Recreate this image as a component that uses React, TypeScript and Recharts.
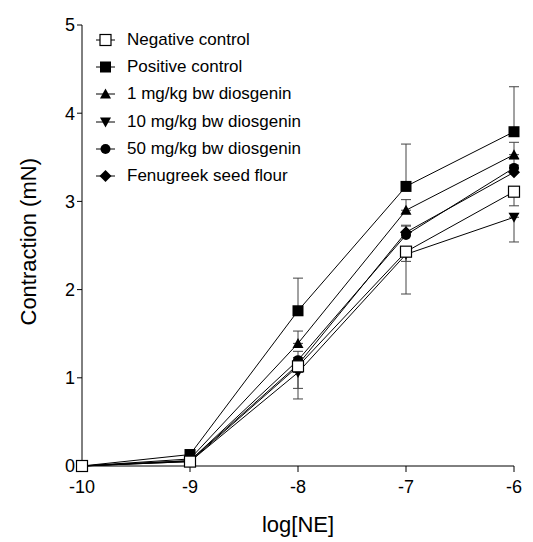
import React from "react"
import { LineChart, Line, XAxis, YAxis, ErrorBar } from "recharts"

const logNE = [-10, -9, -8, -7, -6]

const negative = [0, 0.05, 1.13, 2.43, 3.11]
const negativeErr = [[0, 0], [0, 0], [0.37, 0.0], [0.48, 0], [0.16, 0]]
const positive = [0, 0.13, 1.76, 3.17, 3.79]
const positiveErr = [[0, 0], [0, 0.02], [0, 0.37], [0, 0.48], [0, 0.51]]
const dios1 = [0, 0.08, 1.39, 2.9, 3.53]
const dios1Err = [[0, 0], [0, 0], [0, 0.14], [0, 0.12], [0, 0.14]]
const dios10 = [0, 0.05, 1.06, 2.4, 2.82]
const dios10Err = [[0, 0], [0, 0], [0.18, 0], [0.08, 0], [0.28, 0]]
const dios50 = [0, 0.06, 1.2, 2.62, 3.38]
const dios50Err = [[0, 0], [0, 0], [0, 0.1], [0, 0.1], [0, 0.1]]
const fenugreek = [0, 0.06, 1.15, 2.65, 3.33]
const fenugreekErr = [[0, 0], [0, 0], [0, 0.08], [0, 0.08], [0, 0.08]]

const yTicks = [0, 1, 2, 3, 4, 5]

const series = [
  { key: "pos", name: "Positive control", values: positive, err: positiveErr, shape: "square" },
  { key: "d1", name: "1 mg/kg bw diosgenin", values: dios1, err: dios1Err, shape: "triUp" },
  { key: "d10", name: "10 mg/kg bw diosgenin", values: dios10, err: dios10Err, shape: "triDown" },
  { key: "d50", name: "50 mg/kg bw diosgenin", values: dios50, err: dios50Err, shape: "circle" },
  { key: "fen", name: "Fenugreek seed flour", values: fenugreek, err: fenugreekErr, shape: "diamond" },
  { key: "neg", name: "Negative control", values: negative, err: negativeErr, shape: "openSquare" },
]

const legendOrder = ["neg", "pos", "d1", "d10", "d50", "fen"]

const data = logNE.map((x, i) => {
  const row: any = { x }
  series.forEach((s) => {
    row[s.key] = s.values[i]
    row[s.key + "Err"] = s.err[i]
  })
  return row
})

function Marker({ shape, cx, cy }: { shape: string; cx: number; cy: number }) {
  const r = 5.5
  switch (shape) {
    case "openSquare":
      return <rect x={cx - r} y={cy - r} width={r * 2} height={r * 2} fill="#fff" stroke="#000" strokeWidth={1.2} />
    case "square":
      return <rect x={cx - r} y={cy - r} width={r * 2} height={r * 2} fill="#000" />
    case "triUp":
      return <polygon points={`${cx},${cy - r} ${cx - r},${cy + r - 1} ${cx + r},${cy + r - 1}`} fill="#000" />
    case "triDown":
      return <polygon points={`${cx},${cy + r} ${cx - r},${cy - r + 1} ${cx + r},${cy - r + 1}`} fill="#000" />
    case "circle":
      return <circle cx={cx} cy={cy} r={r - 0.5} fill="#000" />
    default:
      return <polygon points={`${cx},${cy - r - 0.5} ${cx + r + 0.5},${cy} ${cx},${cy + r + 0.5} ${cx - r - 0.5},${cy}`} fill="#000" />
  }
}

const font = "'Liberation Sans', Arial, sans-serif"

function LegendBox() {
  return (
    <div style={{ position: "absolute", left: 94, top: 26, fontFamily: font, fontSize: 17, color: "#000" }}>
      {legendOrder.map((k) => {
        const s = series.find((t) => t.key === k)!
        return (
          <div key={k} style={{ display: "flex", alignItems: "center", height: 27.3 }}>
            <svg width={30} height={20}>
              <line x1={2} y1={10} x2={21} y2={10} stroke="#000" strokeWidth={1} />
              <Marker shape={s.shape} cx={11.5} cy={10} />
            </svg>
            <span style={{ marginLeft: 3 }}>{s.name}</span>
          </div>
        )
      })}
    </div>
  )
}

export default function App() {
  return (
    <div style={{ width: 533, height: 542, background: "#fff", position: "relative" }}>
      <style>{`body{margin:0}`}</style>
      <LineChart width={533} height={542} data={data} margin={{ top: 25, right: 19, left: 22, bottom: 36 }}>
        <XAxis
          dataKey="x"
          type="number"
          domain={[-10, -6]}
          ticks={logNE}
          tickLine={{ stroke: "#000" }}
          axisLine={{ stroke: "#000" }}
          tickSize={6}
          tick={{ fill: "#000", fontSize: 18, fontFamily: font, dy: 6 }}
          height={40}
          label={{ value: "log[NE]", position: "insideBottom", offset: -26, fill: "#000", fontSize: 22, fontFamily: font }}
        />
        <YAxis
          type="number"
          domain={[0, 5]}
          ticks={yTicks}
          width={60}
          tickLine={{ stroke: "#000" }}
          axisLine={{ stroke: "#000" }}
          tickSize={5}
          tick={{ fill: "#000", fontSize: 18, fontFamily: font }}
          label={{ value: "Contraction (mN)", angle: -90, position: "insideLeft", offset: 6, dy: 80, fill: "#000", fontSize: 22, fontFamily: font }}
        />
        {series.map((s) => (
          <Line
            key={s.key}
            dataKey={s.key}
            name={s.name}
            stroke="#000"
            strokeWidth={1}
            isAnimationActive={false}
            dot={(p: any) => <Marker key={s.key + p.index} shape={s.shape} cx={p.cx} cy={p.cy} />}
            activeDot={false}
          >
            <ErrorBar dataKey={s.key + "Err"} direction="y" width={5} stroke="#444" strokeWidth={1} />
          </Line>
        ))}
      </LineChart>
      <LegendBox />
    </div>
  )
}
